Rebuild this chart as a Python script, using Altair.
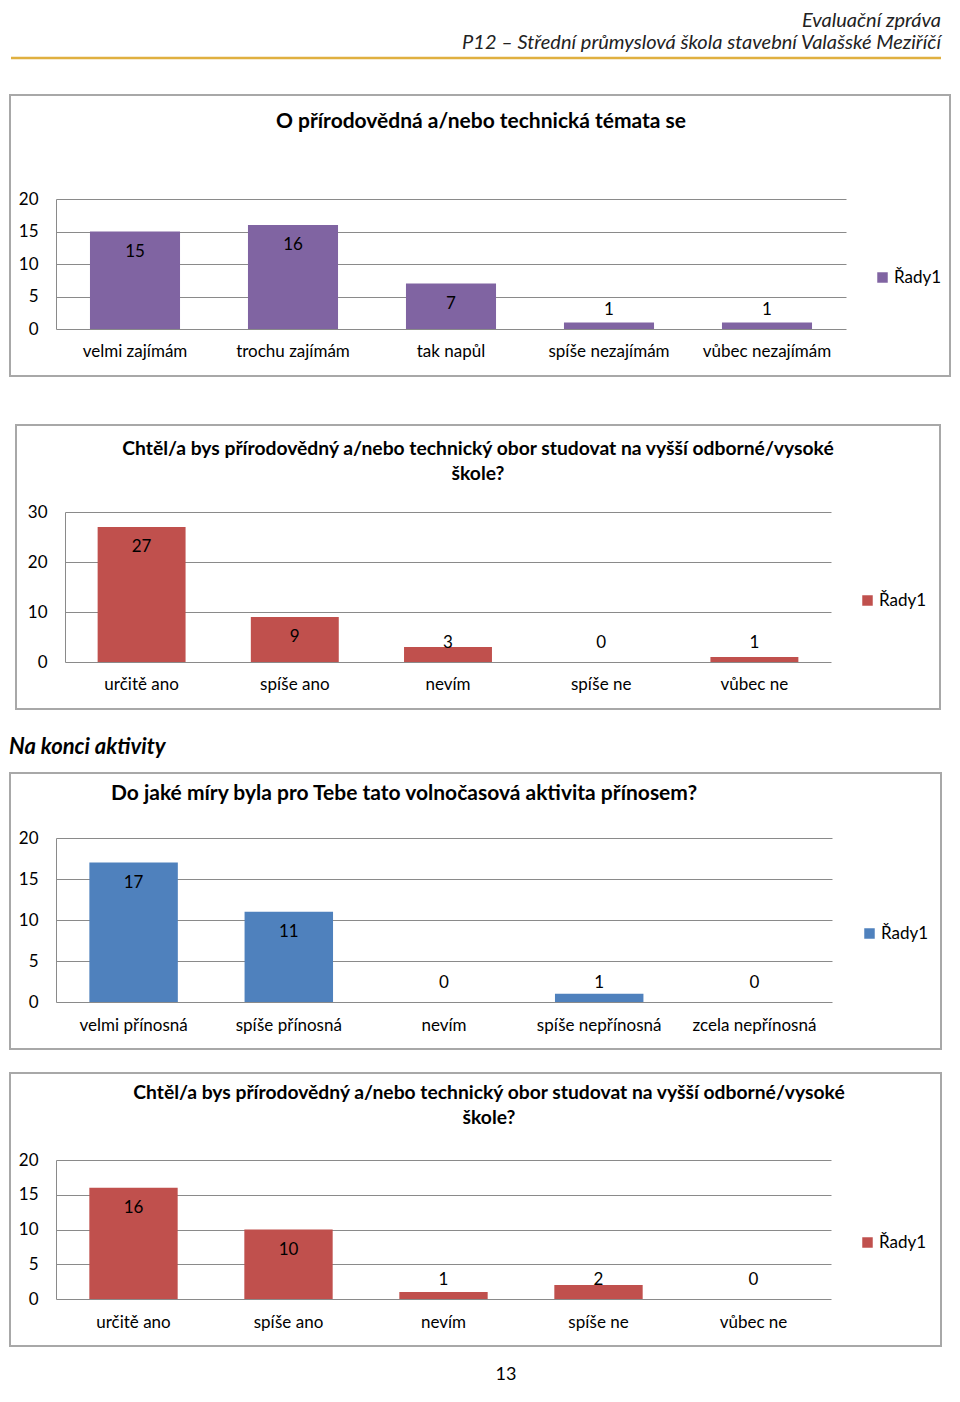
import altair as alt
import pandas as pd

FONT = "Lato"

# ---------------- data ----------------
header_line1 = "Evaluační zpráva"
header_line2 = "P12 – Střední průmyslová škola stavební Valašské Meziříčí"
section_heading = "Na konci aktivity"
page_number = "13"
series_name = "Řady1"

title1 = ["O přírodovědná a/nebo technická témata se"]
title2 = ["Chtěl/a bys přírodovědný a/nebo technický obor studovat na vyšší odborné/vysoké", "škole?"]
title3 = ["Do jaké míry byla pro Tebe tato volnočasová aktivita přínosem?"]
title4 = ["Chtěl/a bys přírodovědný a/nebo technický obor studovat na vyšší odborné/vysoké", "škole?"]

cats1 = ["velmi zajímám", "trochu zajímám", "tak napůl", "spíše nezajímám", "vůbec nezajímám"]
vals1 = [15, 16, 7, 1, 1]
ticks1 = [0, 5, 10, 15, 20]

cats2 = ["určitě ano", "spíše ano", "nevím", "spíše ne", "vůbec ne"]
vals2 = [27, 9, 3, 0, 1]
ticks2 = [0, 10, 20, 30]

cats3 = ["velmi přínosná", "spíše přínosná", "nevím", "spíše nepřínosná", "zcela nepřínosná"]
vals3 = [17, 11, 0, 1, 0]
ticks3 = [0, 5, 10, 15, 20]

cats4 = ["určitě ano", "spíše ano", "nevím", "spíše ne", "vůbec ne"]
vals4 = [16, 10, 1, 2, 0]
ticks4 = [0, 5, 10, 15, 20]

colors = ["#8064A2", "#C0504D", "#4F81BD", "#C0504D"]

# ---------------- layout (pixels, per slot) ----------------
W = 944
GRID = "#8a8a8a"
BOX = "#a8a8a8"
FS = 17

layouts = [
    dict(H=330, box=(2, 942, 7, 288), title=(473, 35), tfs=21, x0=48, x1=838, y0=241, ytop=111, lab=265, leg=(866, 191), pi=0.43),
    dict(H=306, box=(8, 932, 7, 291), title=(470, 34), tfs=19.3, x0=57, x1=823, y0=244, ytop=94, lab=268, leg=(851, 184), pi=0.426),
    dict(H=340, box=(2, 933, 49, 325), title=(396, 71), tfs=21, x0=48, x1=824, y0=278, ytop=114, lab=303, leg=(853, 211), pi=0.43),
    dict(H=322, box=(2, 933, 9, 282), title=(481, 32), tfs=19.3, x0=48, x1=823, y0=235, ytop=96, lab=260, leg=(851, 180), pi=0.43),
]

one = pd.DataFrame({"k": [0]})


def panel(cats, vals, ticks, color, title_lines, L, extra=()):
    df = pd.DataFrame({"kategorie": cats, "hodnota": vals, "rada": [series_name] * len(cats)})
    H = L["H"]
    ymax = ticks[-1]
    ppu = (L["y0"] - L["ytop"]) / ymax
    thr = 39.0 / ppu

    xscale = alt.Scale(range=[L["x0"], L["x1"]], paddingInner=L["pi"], paddingOuter=L["pi"] / 2)
    yscale = alt.Scale(domain=[0, ymax], range=[L["y0"], L["ytop"]], nice=False, zero=True)

    x_axis = alt.Axis(title=None, orient="bottom", offset=-(H - L["y0"]), domain=False, ticks=False,
                      grid=False, labelAngle=0, labelPadding=L["lab"] - L["y0"] - 10, labelFontSize=FS,
                      labelColor="#000000", labelFont=FONT, labelLimit=400)
    y_axis = alt.Axis(title=None, orient="left", offset=-L["x0"], values=ticks, grid=True, gridColor=GRID,
                      gridWidth=1, domain=True, domainColor=GRID, domainWidth=1, ticks=False,
                      labelPadding=18, labelFontSize=FS, labelColor="#000000", labelFont=FONT)

    X = alt.X("kategorie:N", sort=None, scale=xscale, axis=x_axis)
    Xs = alt.X("kategorie:N", sort=None)

    bars = alt.Chart(df).mark_bar().encode(
        x=X,
        y=alt.Y("hodnota:Q", scale=yscale, axis=y_axis),
        color=alt.Color("rada:N", scale=alt.Scale(range=[color]),
                        legend=alt.Legend(title=None, orient="none", legendX=L["leg"][0], legendY=L["leg"][1] - 10,
                                          symbolType="square", symbolSize=110, symbolStrokeWidth=0,
                                          labelFontSize=FS, labelFont=FONT, labelColor="#000000",
                                          labelOffset=3, padding=0)),
    )
    lab_in = alt.Chart(df).transform_filter(f"datum.hodnota > {thr}").mark_text(
        dy=20, fontSize=FS, font=FONT, color="#000000", baseline="middle").encode(
        x=Xs, y=alt.Y("hodnota:Q"), text=alt.Text("hodnota:Q"))
    lab_out = alt.Chart(df).transform_filter(f"datum.hodnota <= {thr}").mark_text(
        dy=-19, fontSize=FS, font=FONT, color="#000000", baseline="middle").encode(
        x=Xs, y=alt.datum(0), text=alt.Text("hodnota:Q"))

    bx0, bx1, by0, by1 = L["box"]
    box = alt.Chart(one).mark_rect(fillOpacity=0, stroke=BOX, strokeWidth=2).encode(
        x=alt.value(bx0), x2=alt.value(bx1), y=alt.value(by0), y2=alt.value(by1))
    title = alt.Chart(one).mark_text(
        text=title_lines if len(title_lines) > 1 else title_lines[0], fontSize=L["tfs"], fontWeight="bold",
        font=FONT, color="#000000", align="center", baseline="top", lineHeight=25).encode(
        x=alt.value(L["title"][0]), y=alt.value(L["title"][1] - 12))

    layers = [box, title, bars, lab_in, lab_out] + list(extra)
    return alt.layer(*layers).properties(width=W, height=H)


# header slot
header = alt.layer(
    alt.Chart(one).mark_text(text=header_line1, fontSize=20, fontStyle="italic", font=FONT, color="#222222",
                             align="right", baseline="middle").encode(x=alt.value(933), y=alt.value(13)),
    alt.Chart(one).mark_text(text=header_line2, fontSize=20, fontStyle="italic", font=FONT, color="#222222",
                             align="right", baseline="middle").encode(x=alt.value(933), y=alt.value(35)),
    alt.Chart(one).mark_rule(color="#E0B040", strokeWidth=2.5).encode(
        x=alt.value(3), x2=alt.value(933), y=alt.value(50)),
).properties(width=W, height=80)

heading = alt.Chart(one).mark_text(text=section_heading, fontSize=22, fontStyle="italic", fontWeight="bold",
                                   font=FONT, color="#000000", align="left", baseline="middle").encode(
    x=alt.value(1), y=alt.value(23))
pnum = alt.Chart(one).mark_text(text=page_number, fontSize=18, font=FONT, color="#000000",
                                align="center", baseline="middle").encode(x=alt.value(498), y=alt.value(311))

p1 = panel(cats1, vals1, ticks1, colors[0], title1, layouts[0])
p2 = panel(cats2, vals2, ticks2, colors[1], title2, layouts[1])
p3 = panel(cats3, vals3, ticks3, colors[2], title3, layouts[2], extra=[heading])
p4 = panel(cats4, vals4, ticks4, colors[3], title4, layouts[3], extra=[pnum])

chart = alt.vconcat(header, p1, p2, p3, p4, spacing=0).properties(padding=0).resolve_scale(
    color="independent").configure(font=FONT, view=alt.ViewConfig(stroke="transparent", strokeWidth=0))

chart.save("out.html", embed_options={"renderer": "svg", "actions": False})
